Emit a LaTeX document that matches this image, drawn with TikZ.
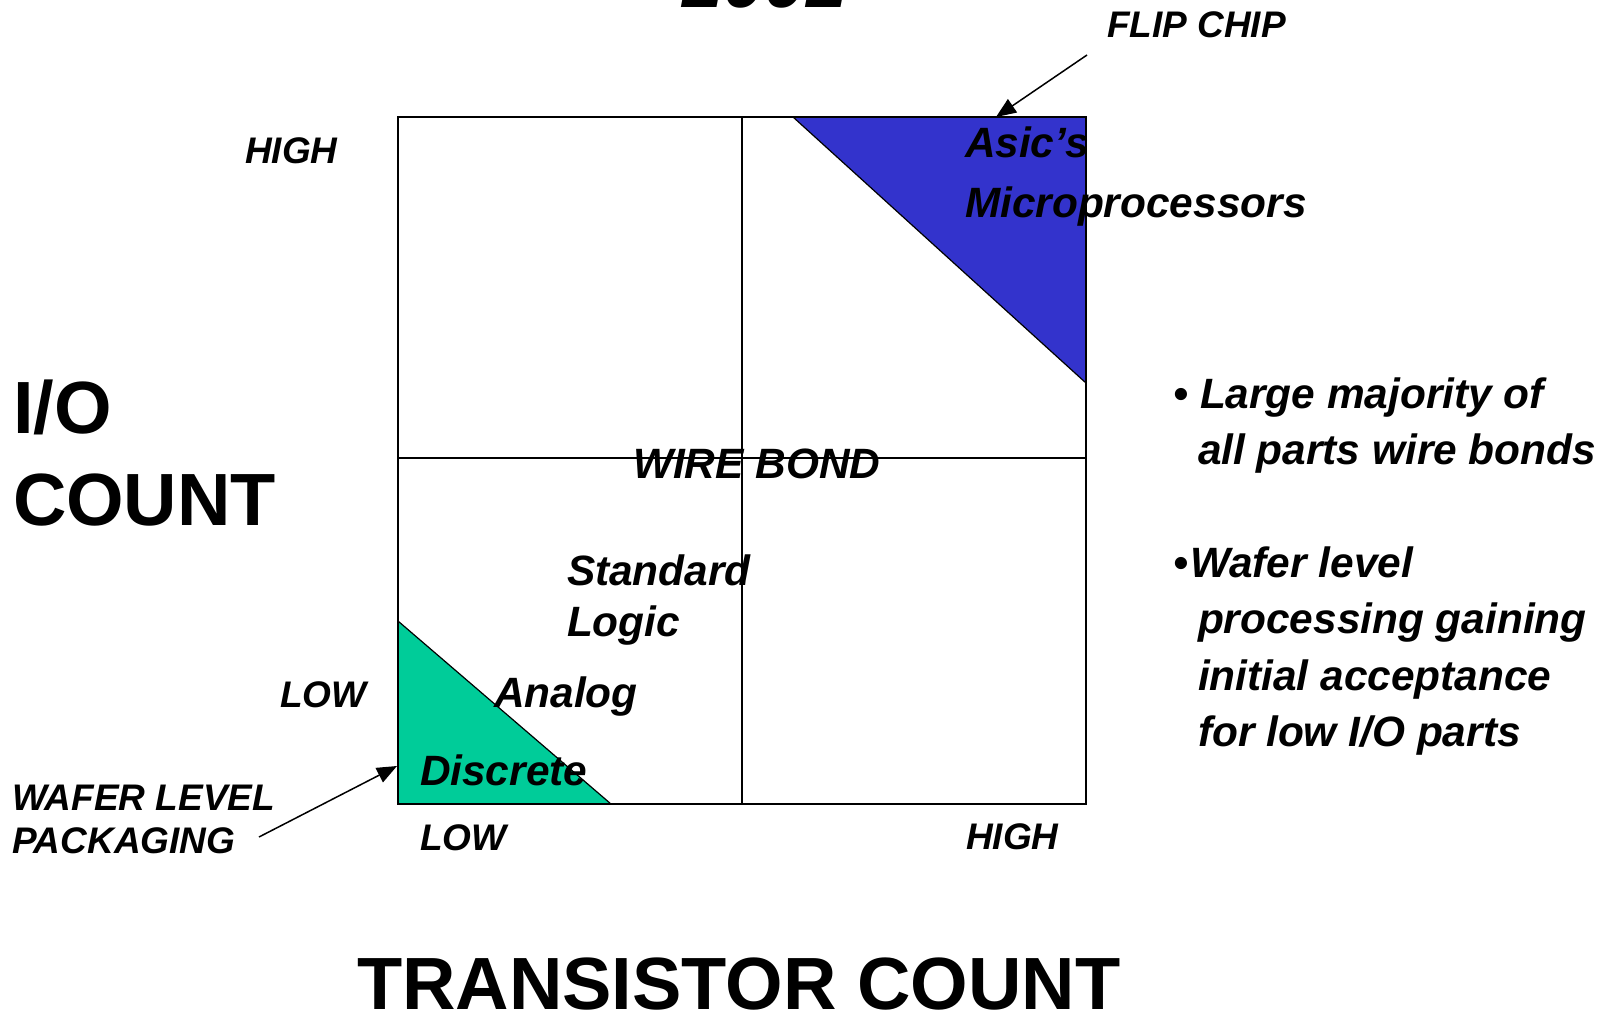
\documentclass[tikz,border=0pt]{standalone}
\usepackage{fontspec}
\setmainfont{Liberation Sans}
\usetikzlibrary{arrows.meta}
\definecolor{asicblue}{HTML}{3333CC}
\definecolor{wlpgreen}{HTML}{00CC99}
\begin{document}
\begin{tikzpicture}[x=0.5pt,y=-0.5pt,
  txt/.style={anchor=base west,inner sep=0pt,outer sep=0pt},
  small/.style={txt,font=\fontsize{18.5}{22}\selectfont\bfseries\itshape},
  medium/.style={txt,font=\fontsize{21.2}{25}\selectfont\bfseries\itshape},
  large/.style={txt,font=\fontsize{37}{44}\selectfont\bfseries},
  gridline/.style={line width=0.8pt},
  frame/.style={line width=1.1pt},
  region/.style={draw=black,line width=0.6pt},
  pointer/.style={line width=0.75pt,-{Triangle[length=10pt,width=8pt]}}]
\useasboundingbox (0,0) rectangle (1614,1014);
\fill[white] (0,0) rectangle (1614,1014);

% corners of the chart
\coordinate (tl) at (398,117);
\coordinate (tr) at (1086,117);
\coordinate (bl) at (398,804);
\coordinate (br) at (1086,804);
\coordinate (mt) at (742,117);
\coordinate (mb) at (742,804);
\coordinate (ml) at (398,458);
\coordinate (mr) at (1086,458);

% shaded regions
\filldraw[region,fill=asicblue] (793,117) -- (tr) -- (1086,383) -- cycle;
\filldraw[region,fill=wlpgreen] (398,621) -- (bl) -- (611,804) -- cycle;

% grid
\draw[gridline] (mt) -- (mb);
\draw[gridline] (ml) -- (mr);
\draw[frame] (tl) rectangle (br);

% title (cut off at the top edge, as in the original)
\node[anchor=base,inner sep=0pt,font=\fontsize{37}{44}\selectfont\bfseries\itshape] (year) at (765,7) {2002};

% axis labels
\node[small] (yhigh) at (245,163) {HIGH};
\node[small] (ylow) at (280,707) {LOW};
\node[small] (xlow) at (420,850) {LOW};
\node[small] (xhigh) at (966,849) {HIGH};
\node[large] (io) at (13,433) {I/O};
\node[large] (count) at (13,525) {COUNT};
\node[large] (tcount) at (357,1009) {TRANSISTOR COUNT};

% pointers
\node[small] (flip) at (1107,37) {FLIP CHIP};
\coordinate (flipstart) at (1087,55);
\coordinate (fliptip) at (996,117);
\draw[pointer] (flipstart) -- (fliptip);

\node[small] (wafer1) at (12,810) {WAFER LEVEL};
\node[small] (wafer2) at (12,853) {PACKAGING};
\coordinate (waferstart) at (259,837);
\coordinate (wafertip) at (397,766);
\draw[pointer] (waferstart) -- (wafertip);

% region labels
\node[medium] (asic) at (965,157) {Asic’s};
\node[medium] (micro) at (965,217) {Microprocessors};
\node[medium] (wire) at (633,478) {WIRE BOND};
\node[medium] (std1) at (567,585) {Standard};
\node[medium] (std2) at (567,636) {Logic};
\node[medium] (analog) at (494,707) {Analog};
\node[medium] (discrete) at (420,785) {Discrete};

% bullets
\node[medium] (b1a) at (1173,408) {•};
\node[medium] (b1b) at (1200,408) {Large majority of};
\node[medium] (b1c) at (1198,464) {all parts wire bonds};
\node[medium] (b2a) at (1173,577) {•};
\node[medium] (b2b) at (1190,577) {Wafer level};
\node[medium] (b2c) at (1198,633) {processing gaining};
\node[medium] (b2d) at (1198,690) {initial acceptance};
\node[medium] (b2e) at (1198,746) {for low I/O parts};
\end{tikzpicture}
\end{document}
